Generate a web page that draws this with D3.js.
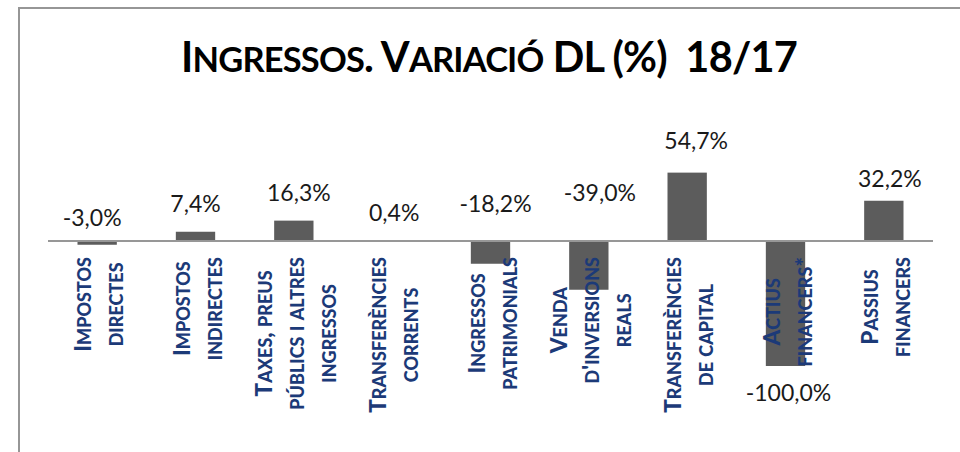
<!DOCTYPE html>
<html>
<head>
<meta charset="utf-8">
<script src="https://cdn.jsdelivr.net/npm/d3@7"></script>
<style>
  body { margin: 0; background: #fff; }
  svg { display: block; }
</style>
</head>
<body>
<div id="chart"></div>
<script>
// data
const title = "Ingressos. Variació DL (%)  18/17";
const categories = [
    "Impostos\ndirectes",
    "Impostos\nindirectes",
    "Taxes, preus\npúblics i altres\ningressos",
    "Transferències\ncorrents",
    "Ingressos\npatrimonials",
    "Venda\nd'inversions\nreals",
    "Transferències\nde capital",
    "Actius\nfinancers*",
    "Passius\nfinancers"
];
const values = [-3.0, 7.4, 16.3, 0.4, -18.2, -39.0, 54.7, -100.0, 32.2];

const W = 960, H = 452;
const navy = "#1c3a78";
const fmt = d3.formatLocale({decimal: ",", thousands: ".", grouping: [3], currency: ["", "€"], minus: "-"}).format(".1f");

const svg = d3.select("#chart").append("svg")
    .attr("width", W)
    .attr("height", H);

// chart frame (cropped at right and bottom)
svg.append("rect")
    .attr("x", 19)
    .attr("y", 8)
    .attr("width", W + 40)
    .attr("height", H + 40)
    .attr("fill", "#fff")
    .attr("stroke", "#969696")
    .attr("stroke-width", 2);

// split text into runs: capitals full size, lowercase as small caps
function capRuns(str) {
    let runs = [];
    for (let ch of str) {
        let small = ch !== ch.toUpperCase();
        let t = ch.toUpperCase();
        if (runs.length && runs[runs.length - 1].small === small) runs[runs.length - 1].t += t;
        else runs.push({t: t, small: small});
    }
    return runs;
}

function addRuns(textSel, str, size, ratio) {
    capRuns(str).forEach(r => {
        textSel.append("tspan")
            .style("font-size", (r.small ? size * ratio : size) + "px")
            .text(r.t);
    });
}

// title
let titleText = svg.append("text")
    .attr("x", 489)
    .attr("y", 72)
    .attr("text-anchor", "middle")
    .style("white-space", "pre")
    .style("font-family", "Lato, sans-serif")
    .style("font-weight", "bold")
    .style("letter-spacing", "-0.8px")
    .attr("fill", "#000");
addRuns(titleText, title, 41.5, 0.83);

// scales
const x = d3.scaleBand()
    .domain(d3.range(values.length))
    .range([48, 933])
    .paddingInner(0.6)
    .paddingOuter(0.3);

const y = d3.scaleLinear()
    .domain([-100, 60])
    .range([366, 166]);

// bars
svg.append("g")
    .selectAll("rect")
    .data(values)
    .enter()
    .append("rect")
    .attr("x", (d, i) => x(i))
    .attr("y", d => y(Math.max(0, d)))
    .attr("width", x.bandwidth())
    .attr("height", d => Math.abs(y(d) - y(0)))
    .attr("fill", "#5c5c5c");

// zero axis line
svg.append("line")
    .attr("x1", 48)
    .attr("x2", 933)
    .attr("y1", y(0))
    .attr("y2", y(0))
    .attr("stroke", "#979797")
    .attr("stroke-width", 2);

// value labels (hand placed in the original, so nudged a bit)
const labelNudge = [[-5, 5], [0, 0], [5, 0], [2, 0], [5, -9], [11, -20], [9, -4], [3, 0], [6, 6]];
svg.append("g")
    .selectAll("text")
    .data(values)
    .enter()
    .append("text")
    .attr("x", (d, i) => x(i) + x.bandwidth() / 2 + labelNudge[i][0])
    .attr("y", (d, i) => {
        let base = d > -50 ? y(Math.max(0, d)) - 20 : y(d) + 35;
        return base + labelNudge[i][1];
    })
    .attr("text-anchor", "middle")
    .style("font-family", "Lato, sans-serif")
    .style("font-size", "23px")
    .attr("fill", "#1a1a1a")
    .text(d => fmt(d) + "%");

// category labels, rotated, lines centred in their block
const catTop = 257, lineGap = 32;
categories.forEach((c, i) => {
    let lines = c.split("\n");
    let cx = x(i) + x.bandwidth() / 2;
    let g = svg.append("g")
        .attr("transform", "translate(" + cx + "," + catTop + ") rotate(-90)");
    let texts = lines.map((ln, j) => {
        let t = g.append("text")
            .attr("y", 10 + (j - (lines.length - 1) / 2) * lineGap)
            .attr("text-anchor", "middle")
            .style("font-family", "Lato, sans-serif")
            .style("font-weight", 900)
            .attr("fill", navy);
        addRuns(t, ln, 22.5, 0.8);
        return t;
    });
    let maxLen = d3.max(texts, t => t.node().getComputedTextLength());
    texts.forEach(t => t.attr("x", -maxLen / 2));
});
</script>
</body>
</html>
